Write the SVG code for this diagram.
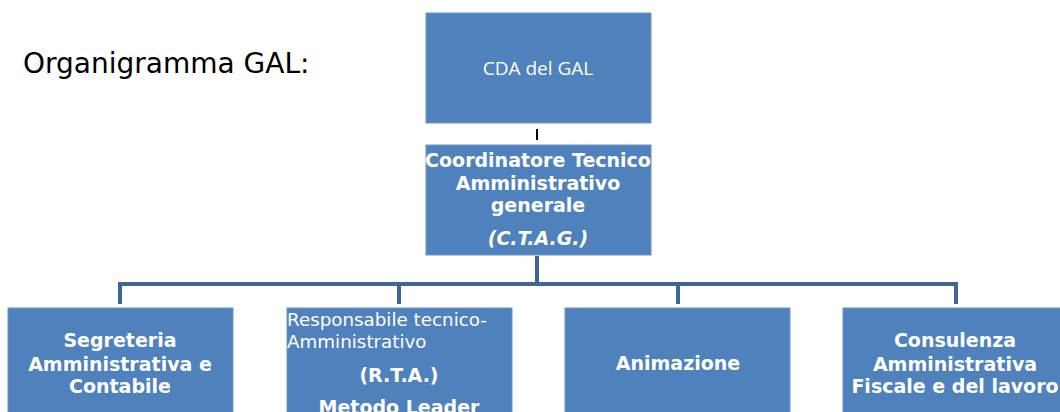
<svg xmlns="http://www.w3.org/2000/svg" width="1060" height="412" viewBox="0 0 1060 412">
<style>
.box{fill:#4f81bd;stroke:#6d96c9;stroke-width:1}
.conn{fill:none;stroke:#3d6596;stroke-width:4}
.b{font-family:"DejaVu Sans",Verdana,sans-serif;font-weight:bold;font-size:19px;fill:#fff;text-anchor:middle}
.r{font-family:"DejaVu Sans",Verdana,sans-serif;font-size:18.3px;fill:#fff}
</style>
<rect width="1060" height="412" fill="#fff"/>
<text x="23" y="73" font-family="DejaVu Sans,Verdana,sans-serif" font-size="28" fill="#000">Organigramma GAL:</text>
<g id="connectors">
<line x1="537" y1="129" x2="537" y2="140" stroke="#000" stroke-width="2"/>
<path class="conn" d="M537 256 V284 M120 304 V284 H956 V304 M399 284 V304 M678 284 V304"/>
</g>
<g id="cda">
<rect class="box" x="426" y="13" width="225" height="110"/>
<text x="538" y="75" font-family="Open Sans,sans-serif" font-size="19" fill="#fff" text-anchor="middle">CDA del GAL</text>
</g>
<g id="ctag">
<rect class="box" x="426" y="145" width="225" height="110"/>
<text class="b" x="538" y="167">Coordinatore Tecnico</text>
<text class="b" x="538" y="190">Amministrativo</text>
<text class="b" x="538" y="212">generale</text>
<text class="b" x="538" y="245" font-style="italic">(C.T.A.G.)</text>
</g>
<g id="segreteria">
<rect class="box" x="8" y="308" width="225" height="110"/>
<text class="b" x="120" y="347">Segreteria</text>
<text class="b" x="120" y="371">Amministrativa e</text>
<text class="b" x="120" y="393">Contabile</text>
</g>
<g id="rta">
<rect class="box" x="287" y="308" width="225" height="110"/>
<text class="r" x="287" y="326">Responsabile tecnico-</text>
<text class="r" x="287" y="348">Amministrativo</text>
<text class="b" x="399" y="382">(R.T.A.)</text>
<text class="b" x="399" y="414">Metodo Leader</text>
</g>
<g id="animazione">
<rect class="box" x="565" y="308" width="225" height="110"/>
<text class="b" x="678" y="370">Animazione</text>
</g>
<g id="consulenza">
<rect class="box" x="843" y="308" width="225" height="110"/>
<text class="b" x="955" y="347">Consulenza</text>
<text class="b" x="955" y="371">Amministrativa</text>
<text class="b" x="955" y="393">Fiscale e del lavoro</text>
</g>
</svg>
